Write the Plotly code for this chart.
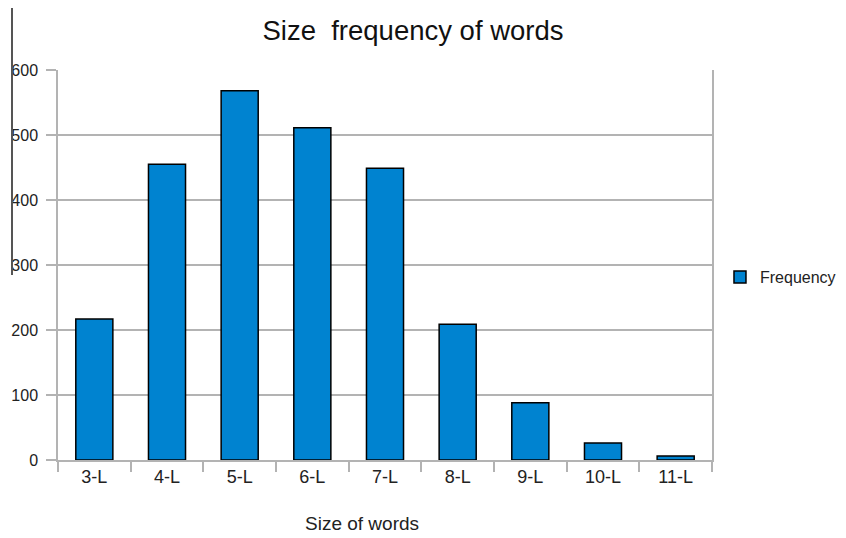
import plotly.graph_objects as go

categories = ["3-L", "4-L", "5-L", "6-L", "7-L", "8-L", "9-L", "10-L", "11-L"]
frequency = [217, 455, 568, 511, 449, 209, 88, 26, 6]
y_ticks = [0, 100, 200, 300, 400, 500, 600]

fig = go.Figure()
fig.add_trace(go.Bar(
    x=categories, y=frequency, name="Frequency",
    marker=dict(color="#0083d0", line=dict(color="#000000", width=1.5)),
    showlegend=True,
))

font = "Liberation Sans, Arial, sans-serif"
W, H = 870, 546
fig.update_layout(
    width=W, height=H,
    margin=dict(l=50, r=W - 704, t=62, b=H - 452),
    paper_bgcolor="white", plot_bgcolor="white",
    bargap=0.49,
    font=dict(family=font, color="#222222", size=16),
    title=dict(text="Size  frequency of words", x=405 / W, xanchor="center",
               y=1 - 22 / H, yanchor="middle", font=dict(size=27.5, color="#111111")),
    showlegend=True,
    legend=dict(x=1.0122, y=0.469, xanchor="left", yanchor="middle",
                font=dict(size=16, color="#222222"), bgcolor="rgba(0,0,0,0)"),
    xaxis=dict(
        type="category", showgrid=False, showline=True, linecolor="#b3b3b3", linewidth=1.5,
        ticks="outside", tickson="boundaries", ticklen=10, tickcolor="#b3b3b3", tickwidth=1.5,
        tickfont=dict(size=18, color="#222222"), mirror=False, automargin=False,
    ),
    yaxis=dict(
        range=[0, 600], tickvals=y_ticks, showgrid=True, gridcolor="#b3b3b3", gridwidth=1.5,
        showline=True, linecolor="#b3b3b3", linewidth=1.5, mirror=True,
        ticks="outside", ticklen=10, tickcolor="#b3b3b3", tickwidth=1.5,
        tickfont=dict(size=16, color="#222222"), zeroline=False, automargin=False,
        ticklabelstandoff=5,
    ),
    annotations=[dict(text="Size of words", xref="paper", yref="paper",
                      x=(354 - 50) / 654, y=(452 - 515) / 390, xanchor="center", yanchor="middle",
                      showarrow=False, font=dict(size=19, color="#222222"))],
    shapes=[dict(type="line", xref="paper", yref="paper",
                 x0=(4 - 50) / 654, x1=(4 - 50) / 654,
                 y0=452 / 390, y1=(452 - 267) / 390,
                 line=dict(color="#555555", width=2))],
)

fig.write_html("out.html")
